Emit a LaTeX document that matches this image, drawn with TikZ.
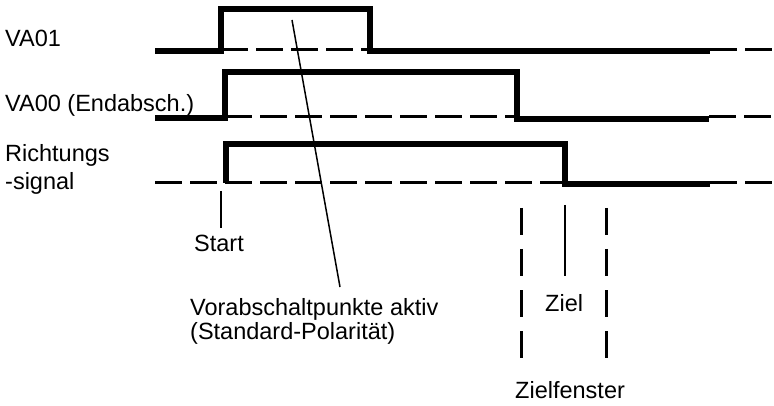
\documentclass[tikz,border=0pt]{standalone}
\usepackage{fontspec}
\setmainfont{Liberation Sans}
\begin{document}
\begin{tikzpicture}[x=1pt,y=-1pt,
  lbl/.style={anchor=base west,inner sep=0pt,font=\fontsize{23.5}{28}\selectfont},
  sig/.style={line width=5.5pt,line join=miter,line cap=butt},
  ref/.style={line width=3pt,dash pattern=on 27pt off 8pt},
  thin/.style={line width=1.5pt},
  win/.style={line width=3pt,dash pattern=on 27pt off 14pt}]
\useasboundingbox (0,0) rectangle (774,406);
% labels
\node[lbl] (l1) at (5,47) {VA01};
\node[lbl] (l2) at (5,112) {VA00 (Endabsch.)};
\node[lbl] (l3a) at (5,162) {Richtungs};
\node[lbl] (l3b) at (5,190) {-signal};
% VA01
\draw[ref] (221,50) -- (370,50);
\draw[sig] (155,51) -- (221,51) -- (221,9) -- (370,9) -- (370,51) -- (710,51);
\draw[ref] (710,50) -- (774,50);
% VA00
\draw[ref] (225,117) -- (517,117);
\draw[sig] (155,118) -- (225,118) -- (225,72) -- (517,72) -- (517,119) -- (709,119);
\draw[ref] (709,117) -- (774,117);
% Richtungssignal
\draw[ref] (155,183) -- (565,183);
\draw[sig] (226,183) -- (226,144) -- (565,144) -- (565,184) -- (710,184);
\draw[ref] (710,183) -- (774,183);
% Start
\node[lbl] (start) at (194,252) {Start};
\coordinate (s0) at (221,191);
\draw[thin] (s0) -- (221,228);
% Vorabschaltpunkte
\node[lbl] (vor1) at (190,316) {Vorabschaltpunkte aktiv};
\node[lbl] (vor2) at (190,339) {(Standard-Polarität)};
\coordinate (d0) at (292,20);
\coordinate (d1) at (340,287);
\draw[thin] (d0) -- (d1);
% Ziel
\coordinate (z0) at (565,205);
\coordinate (z1) at (565,276);
\draw[thin] (z0) -- (z1);
\node[lbl] (ziel) at (545,312) {Ziel};
\draw[win] (521,208) -- (521,358);
\draw[win] (606,208) -- (606,358);
\node[lbl] (zf) at (515,398) {Zielfenster};
\end{tikzpicture}
\end{document}
